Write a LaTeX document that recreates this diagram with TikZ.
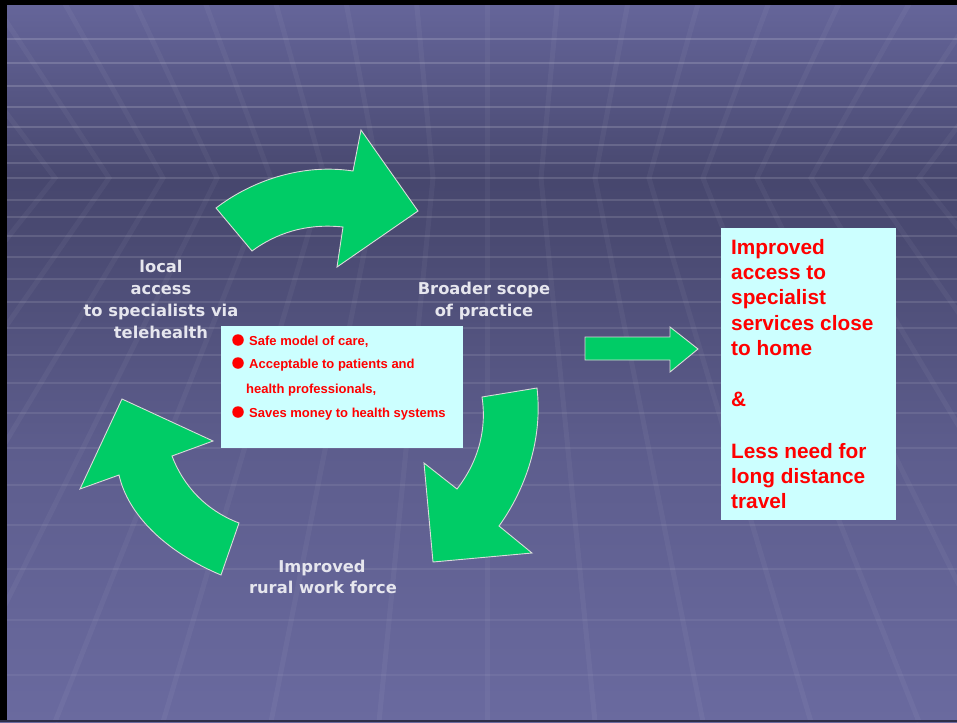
\documentclass[tikz,border=0pt]{standalone}
\usepackage{fontspec}
\setmainfont{Liberation Sans}
\newfontfamily\lblfont{DejaVu Sans}
\definecolor{arrowgreen}{HTML}{00CC66}
\definecolor{boxcyan}{HTML}{CCFFFF}
\definecolor{labelwhite}{HTML}{E6E6EE}
\definecolor{bgtop}{HTML}{66669B}
\definecolor{bgdark}{HTML}{47476E}
\definecolor{bgdark2}{HTML}{4A4A72}
\definecolor{bgmid}{HTML}{5D5D8D}
\definecolor{bgbot}{HTML}{6A6A9F}
\definecolor{edgedark}{HTML}{2E2E48}
\definecolor{outlinegray}{HTML}{DADADA}
\pgfdeclareverticalshading{slidebg}{100bp}{color(0bp)=(bgbot); color(25bp)=(bgbot); color(43.8bp)=(bgmid); color(58.4bp)=(bgdark2); color(62.5bp)=(bgdark); color(75bp)=(bgtop); color(100bp)=(bgtop)}
\tikzset{
  hline/.style={white, line width=2.4pt},
  vline/.style={white, opacity=0.045, line width=5pt},
  blockarrow/.style={fill=arrowgreen, draw=outlinegray, line width=0.9pt, line join=miter},
  cyanbox/.style={fill=boxcyan, draw=none},
  lbl/.style={text=labelwhite, font=\lblfont\bfseries\fontsize{16.3}{20}\selectfont, anchor=base, inner sep=0pt},
  smalltxt/.style={text=red, font=\bfseries\fontsize{13}{15}\selectfont, anchor=base west, inner sep=0pt},
  bigtxt/.style={text=red, font=\bfseries\fontsize{20.8}{25}\selectfont, anchor=base west, inner sep=0pt},
  bulletdot/.style={circle, fill=red, minimum size=11.5pt, inner sep=0pt}
}
\begin{document}
\begin{tikzpicture}[x=1pt,y=-1pt]
\useasboundingbox (0,0) rectangle (957,722);
% background
\shade[shading=slidebg] (0,0) rectangle (957,722);
\begin{scope}
\clip (0,0) rectangle (957,722);
\foreach \yy/\op in {39/0.16,63/0.16,86/0.16,107/0.16,127/0.16,145/0.15,163/0.15,178/0.14,200/0.13,217/0.13,236/0.12,257/0.12,279/0.11,302/0.11,328/0.10,355/0.10,383/0.09,413/0.09,448/0.08,485/0.08,525/0.07,569/0.07,620/0.06,675/0.06}
  \draw[hline, opacity=\op] (0,\yy) -- (957,\yy);
\foreach \n in {-10,...,10}
  \draw[vline] ({487+70.7*\n},0) -- ({487+54*\n},178) -- ({487+108*\n},722);
\end{scope}
% frame edges
\fill[black] (0,0) rectangle (957,5.5);
\fill[black] (0,0) rectangle (7,722);
\fill[edgedark] (0,719.5) rectangle (957,722);

% cycle arrows
\draw[blockarrow] (216,208) .. controls (250,182) and (300,163) .. (353,171) -- (361,130) -- (418,211) -- (337,267) -- (343,227) .. controls (305,223) and (275,234) .. (252,251) -- cycle;
\draw[blockarrow] (537,388) -- (482,397) .. controls (487,430) and (478,462) .. (457,489) -- (424,463) -- (433,562) -- (532,553) -- (499,526) .. controls (525,490) and (543,440) .. (537,388) -- cycle;
\draw[blockarrow] (122,399) -- (213,441) -- (172,456) .. controls (183,485) and (205,510) .. (239,523) -- (221,575) .. controls (166,552) and (128,515) .. (119,475) -- (80,489) -- cycle;
% straight arrow
\draw[blockarrow] (585,337) -- (670,337) -- (670,327) -- (698,349) -- (670,372) -- (670,360) -- (585,360) -- cycle;

% labels
\node[lbl] (l1) at (161,272) {local};
\node[lbl] (l2) at (161,294.5) {access};
\node[lbl] (l3) at (161,316.5) {to specialists via};
\node[lbl] (l4) at (161,338.5) {telehealth};
\node[lbl] (p1) at (484,294) {Broader scope};
\node[lbl] (p2) at (484,316.5) {of practice};
\node[lbl] (w1) at (322,572.5) {Improved};
\node[lbl] (w2) at (323,593) {rural work force};

% centre box
\path[cyanbox] (221,326) rectangle (463,448);
\node[bulletdot] (b1) at (238,340) {};
\node[bulletdot] (b2) at (238,363) {};
\node[bulletdot] (b3) at (238,412) {};
\node[smalltxt] (c1) at (249,345) {Safe model of care,};
\node[smalltxt] (c2) at (249,368) {Acceptable to patients and};
\node[smalltxt] (c3) at (246,393) {health professionals,};
\node[smalltxt] (c4) at (249,417) {Saves money to health systems};

% right box
\path[cyanbox] (721,228) rectangle (896,520);
\node[bigtxt] (r1) at (731,254) {Improved};
\node[bigtxt] (r2) at (731,279.4) {access to};
\node[bigtxt] (r3) at (731,304.8) {specialist};
\node[bigtxt] (r4) at (731,330.2) {services close};
\node[bigtxt] (r5) at (731,355.6) {to home};
\node[bigtxt] (r6) at (731,406.6) {\&};
\node[bigtxt] (r7) at (731,458) {Less need for};
\node[bigtxt] (r8) at (731,483) {long distance};
\node[bigtxt] (r9) at (731,508) {travel};
\end{tikzpicture}
\end{document}
